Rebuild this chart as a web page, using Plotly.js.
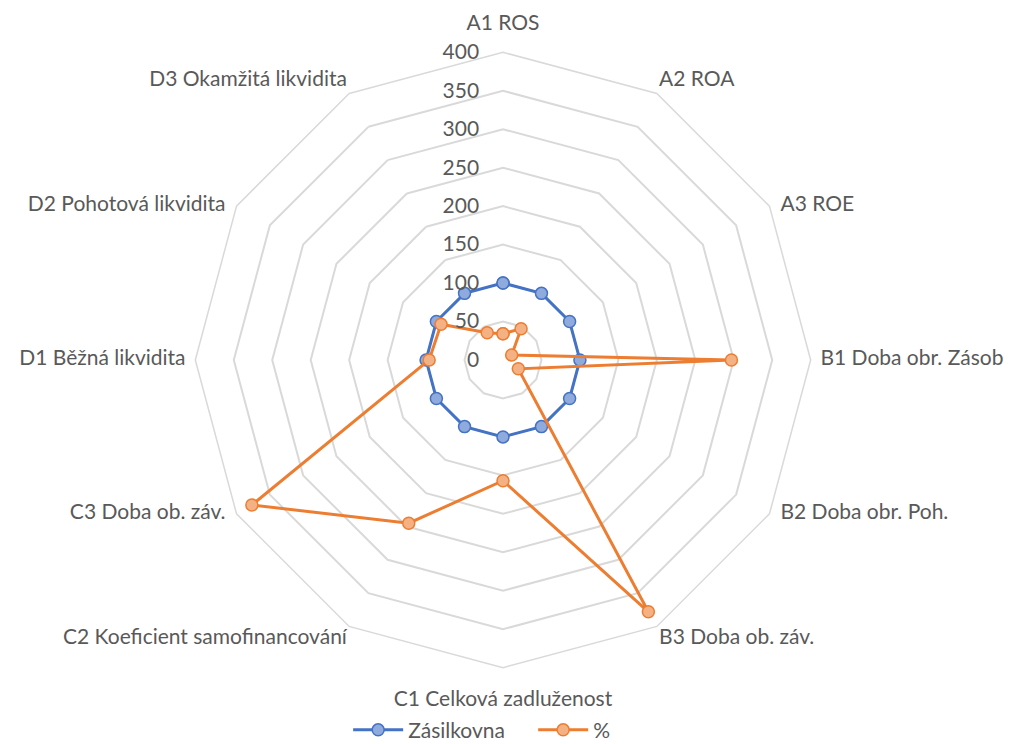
<!DOCTYPE html>
<html>
<head>
<meta charset="utf-8">
<script src="https://cdn.plot.ly/plotly-3.0.1.min.js"></script>
<style>html,body{margin:0;padding:0;background:#fff;}#chart{width:1018px;height:744px;}</style>
</head>
<body>
<div id="chart"></div>
<script>
const categories = ["A1 ROS","A2 ROA","A3 ROE","B1 Doba obr. Zásob","B2 Doba obr. Poh.","B3 Doba ob. záv.","C1 Celková zadluženost","C2 Koeficient samofinancování","C3 Doba ob. záv.","D1 Běžná likvidita","D2 Pohotová likvidita","D3 Okamžitá likvidita"];
const zasilkovna = [100,100,100,100,100,100,100,100,100,100,100,100];
const procenta = [34,47,13,297,23,378,157,245,377,96,93,41];
const radialTicks = [0,50,100,150,200,250,300,350,400];

const radialRange = [0, 400];
function closeLoop(a){ return a.concat([a[0]]); }

// category label placement (style only)
const labelPos = ['top center','top right','middle right','middle right','middle right','bottom right',
                  'bottom center','bottom left','middle left','middle left','middle left','top left'];
const labelGap = [26,2,16,14,16,2,34,2,16,14,16,2];

const traces = [
  {type:'scatterpolar', name:'Zásilkovna', r:closeLoop(zasilkovna), theta:closeLoop(categories),
   mode:'lines+markers', line:{color:'#4472c4', width:3},
   marker:{size:12, color:'#8faadc', line:{color:'#4472c4', width:1.5}}},
  {type:'scatterpolar', name:'%', r:closeLoop(procenta), theta:closeLoop(categories),
   mode:'lines+markers', line:{color:'#ed7d31', width:3},
   marker:{size:12, color:'#f4b183', line:{color:'#ed7d31', width:1.5}}},
  {type:'scatterpolar', name:'labels', showlegend:false, hoverinfo:'skip', cliponaxis:false,
   r:categories.map(()=>radialRange[1]), theta:categories, text:categories,
   mode:'markers+text', textposition:labelPos,
   marker:{size:labelGap, color:'rgba(0,0,0,0)'},
   textfont:{size:21, color:'#595959', family:'Lato, "Open Sans", sans-serif'}}
];

const layout = {
  width:1018, height:744,
  margin:{l:0,r:0,t:0,b:0, autoexpand:false},
  paper_bgcolor:'#fff',
  font:{family:'Lato, "Open Sans", sans-serif', color:'#595959', size:21},
  showlegend:true,
  legend:{orientation:'h', x:0.342, xanchor:'left', y:-0.009, yanchor:'bottom',
    bgcolor:'rgba(0,0,0,0)',
    entrywidth:120, entrywidthmode:'pixels', itemwidth:50,
    font:{size:21, color:'#595959'}},
  polar:{
    domain:{x:[0.1918,0.7964], y:[0.1026,0.9297]},
    gridshape:'linear',
    bgcolor:'rgba(0,0,0,0)',
    angularaxis:{rotation:90, direction:'clockwise', showgrid:false, showline:true, linecolor:'#d9d9d9', linewidth:1.5,
      ticks:'', showticklabels:false},
    radialaxis:{range:radialRange, tickvals:radialTicks, showline:false, showgrid:true, gridcolor:'#d9d9d9', gridwidth:1.5,
      angle:90, side:'counterclockwise', ticks:'outside', ticklen:16, tickcolor:'rgba(0,0,0,0)',
      tickfont:{size:21, color:'#595959'}, tickangle:90}
  }
};

Plotly.newPlot('chart', traces, layout, {displayModeBar:false});
</script>
</body>
</html>
